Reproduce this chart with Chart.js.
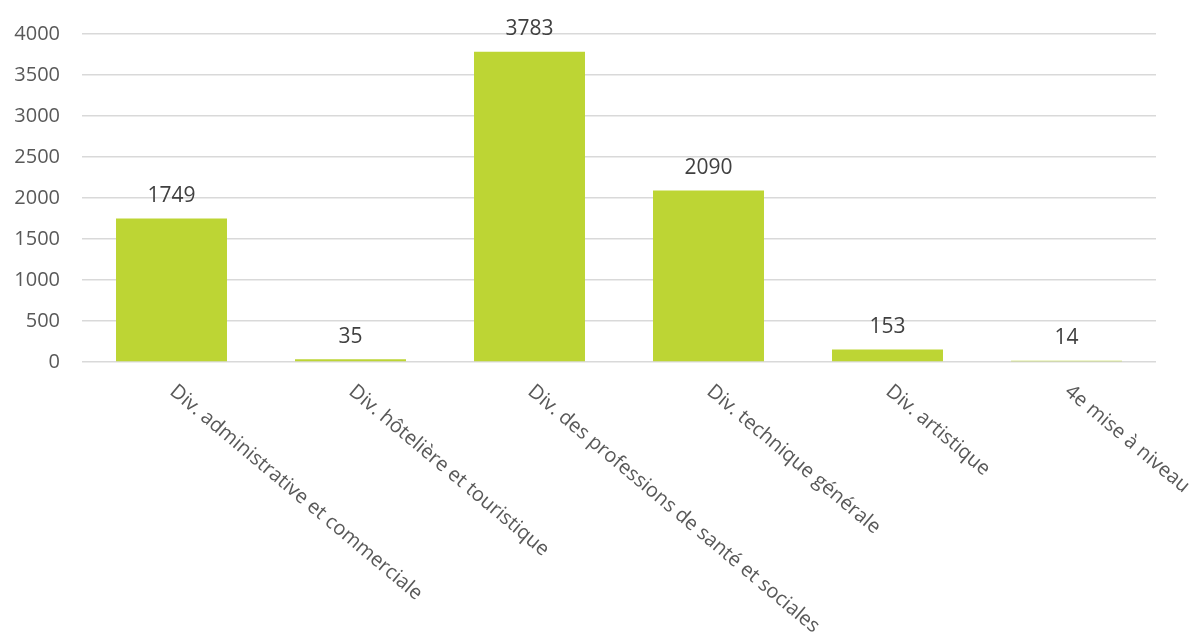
<!DOCTYPE html>
<html>
<head>
<meta charset="utf-8">
<script src="https://cdn.jsdelivr.net/npm/chart.js@4.4.1/dist/chart.umd.min.js"></script>
<style>
  html, body { margin: 0; padding: 0; background: #fff; }
  #wrap { width: 1194px; height: 644px; }
</style>
</head>
<body>
<div id="wrap"><canvas id="chart"></canvas></div>
<script>
// chart data
const categories = [
    'Div. administrative et commerciale',
    'Div. hôtelière et touristique',
    'Div. des professions de santé et sociales',
    'Div. technique générale',
    'Div. artistique',
    '4e mise à niveau'
];
const values = [1749, 35, 3783, 2090, 153, 14];
const yTicks = [0, 500, 1000, 1500, 2000, 2500, 3000, 3500, 4000];

const FONT = "'Open Sans', 'Noto Sans', sans-serif";

// draws the value above each bar
const valueLabels = {
    id: 'valueLabels',
    afterDatasetsDraw(chart) {
        const ctx = chart.ctx;
        const meta = chart.getDatasetMeta(0);
        ctx.save();
        ctx.font = '21px ' + FONT;
        ctx.fillStyle = '#404040';
        ctx.textAlign = 'center';
        ctx.textBaseline = 'bottom';
        meta.data.forEach((bar, i) => {
            ctx.fillText(String(values[i]), bar.x, bar.y - 12);
        });
        ctx.restore();
    }
};

// slanted category labels, reading downwards from the tick
const slantedLabels = {
    id: 'slantedLabels',
    afterDraw(chart) {
        const ctx = chart.ctx;
        const xScale = chart.scales.x;
        const top = chart.chartArea.bottom + 27;
        ctx.save();
        ctx.font = '20px ' + FONT;
        ctx.fillStyle = '#595959';
        ctx.textAlign = 'left';
        ctx.textBaseline = 'middle';
        categories.forEach((label, i) => {
            const x = xScale.getPixelForValue(i);
            ctx.save();
            ctx.translate(x + 1, top);
            ctx.rotate(40 * Math.PI / 180);
            ctx.fillText(label, 0, 0);
            ctx.restore();
        });
        ctx.restore();
    }
};

new Chart(document.getElementById('chart'), {
    type: 'bar',
    data: {
        labels: categories,
        datasets: [{
            data: values,
            backgroundColor: '#bdd534',
            barPercentage: 0.62,
            categoryPercentage: 1.0
        }]
    },
    options: {
        responsive: true,
        maintainAspectRatio: false,
        animation: false,
        layout: {
            padding: { top: 32, right: 38, bottom: 282, left: 12 }
        },
        plugins: {
            legend: { display: false },
            tooltip: { enabled: false }
        },
        scales: {
            x: {
                display: false
            },
            y: {
                min: 0,
                max: 4000,
                afterBuildTicks(axis) {
                    axis.ticks = yTicks.map(v => ({ value: v }));
                },
                afterFit(axis) {
                    axis.width = 70;
                },
                border: { display: false },
                grid: {
                    color: '#d9d9d9',
                    lineWidth: 1.5,
                    drawTicks: false
                },
                ticks: {
                    padding: 22,
                    color: '#595959',
                    font: { family: FONT, size: 20 },
                    callback: v => String(v)
                }
            }
        }
    },
    plugins: [valueLabels, slantedLabels]
});
</script>
</body>
</html>
